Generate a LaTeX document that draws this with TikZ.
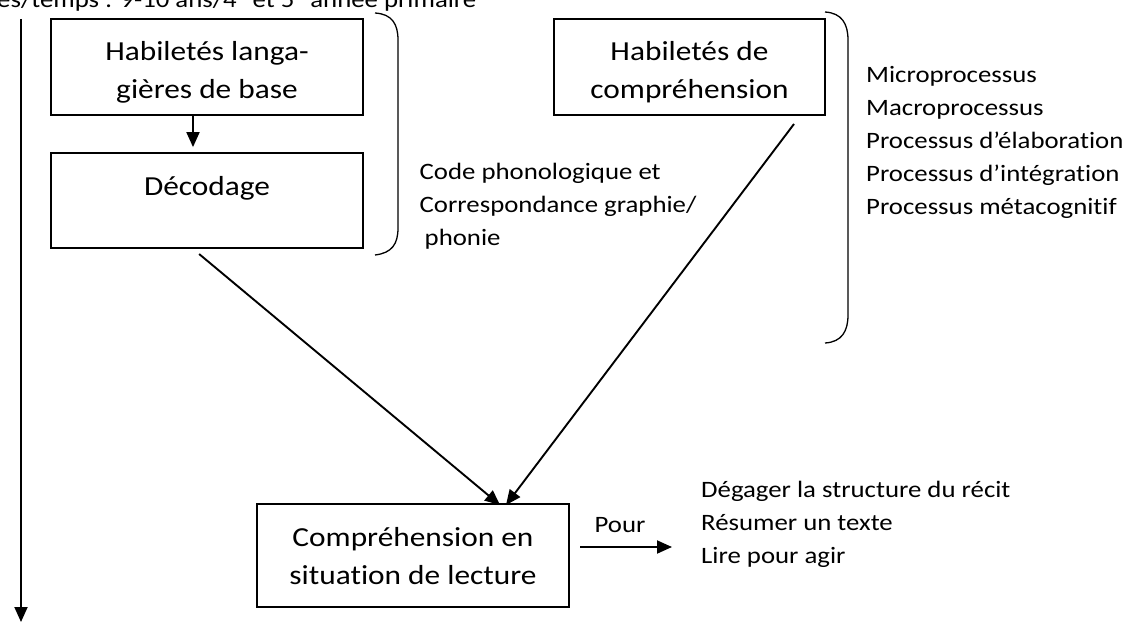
\documentclass[tikz,border=0pt]{standalone}
\usepackage{fontspec}
\setmainfont{Carlito}[FakeStretch=1.14,Ligatures=NoCommon]
\usetikzlibrary{arrows.meta,calc}
\newcommand\bigtxt{\fontsize{27.5}{38}\selectfont}
\newcommand\smalltxt{\fontsize{23.5}{33}\selectfont}
% box text set from the top of the box
\newcommand\blocktxt[3]{\parbox[c][#2][t]{#1}{\centering\vspace*{15.4pt}\strut#3}}

\begin{document}
\begin{tikzpicture}[x=1pt,y=-1pt,
                    block/.style ={rectangle, draw=black, line width=1.8pt,
                    	inner sep=0pt, font=\bigtxt},
                    note/.style ={anchor=base west, inner sep=0pt, font=\smalltxt},
                    brace/.style ={draw, line width=1.3pt},
                    line/.style ={draw, line width=1.9pt,
                    	-{Triangle[length=15pt,width=13pt]}}]
	\useasboundingbox (0,0) rectangle (1128,626);

	% title line, cut by the page edge
	\node[note] (age) at (-3,8) {es/temps : 9-10 ans/4\textsuperscript{e} et 5\textsuperscript{e} année primaire};

	% boxes
	\node [block] (hab) at (207,67) {\blocktxt{312pt}{96pt}{Habiletés langa-\\gières de base}};
	\node [block] (dec) at (207,200.5) {\blocktxt{312pt}{95pt}{Décodage}};
	\node [block] (habc) at (689.5,67) {\blocktxt{271pt}{96pt}{Habiletés de\\compréhension}};
	\node [block] (compr) at (413,555.5) {\blocktxt{312pt}{103pt}{Compréhension en\\situation de lecture}};

	% side notes
	\foreach \t [count=\i from 0] in {Code phonologique et, Correspondance graphie/, {\hspace{5pt}phonie}}
		\node [note] (code\i) at (419.5, 179+33*\i) {\t};
	\foreach \t [count=\i from 0] in {Microprocessus, Macroprocessus, Processus d’élaboration, Processus d’intégration, Processus métacognitif}
		\node [note] (proc\i) at (866, 82+33*\i) {\t};
	\foreach \t [count=\i from 0] in {Dégager la structure du récit, Résumer un texte, Lire pour agir}
		\node [note] (but\i) at (701, 497+33*\i) {\t};
	\node [note, anchor=base] (pour) at (620,532) {Pour};

	% brackets
	\path[brace] (375,13) .. controls (392,14) and (398,24) .. (398,40) -- (398,228)
		.. controls (398,244) and (392,253) .. (375,255);
	\path[brace] (825,12) .. controls (842,13) and (848,24) .. (848,40) -- (848,315)
		.. controls (848,331) and (842,342) .. (825,343);

	% free ends
	\coordinate (ttop) at (21,19);
	\coordinate (tbot) at (21,622);
	\coordinate (ax) at (193,0);
	\coordinate (fromc) at (794,124);
	\coordinate (tipl) at (500,505);
	\coordinate (tipr) at (506,505);
	\coordinate (poura) at (580,547);
	\coordinate (pourb) at (672,547);

	% connecting nodes with paths
	\begin{scope}[every path/.style=line]
		\path (ttop) -- (tbot);
		\path[shorten >=5pt] (hab.south -| ax) -- (dec.north -| ax);
		\path[shorten <=8pt] (dec.south -| ax) -- (tipl);
		\path (fromc) -- (tipr);
		\path (poura) -- (pourb);
	\end{scope}
\end{tikzpicture}
\end{document}
